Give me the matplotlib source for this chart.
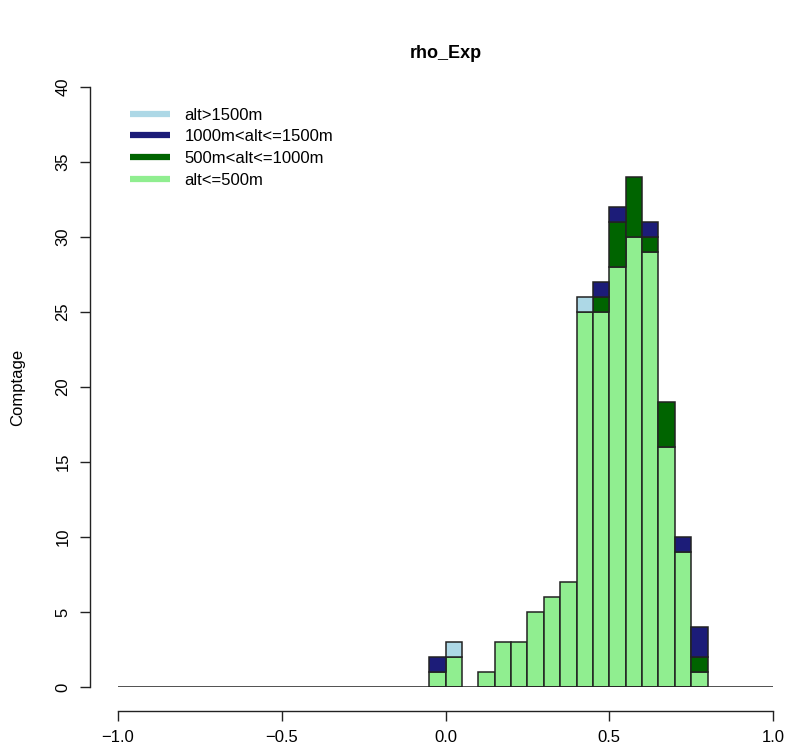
import matplotlib
matplotlib.use("Agg")
import matplotlib.pyplot as plt
from matplotlib.lines import Line2D
import numpy as np

plt.rcParams['font.family'] = ['Liberation Sans', 'DejaVu Sans']

# Histogram bins (left edges, width 0.05) and stacked counts per altitude class
bin_left = [-0.05, 0.00, 0.05, 0.10, 0.15, 0.20, 0.25, 0.30, 0.35,
            0.40, 0.45, 0.50, 0.55, 0.60, 0.65, 0.70, 0.75]
bin_width = 0.05
low = [1, 2, 0, 1, 3, 3, 5, 6, 7, 25, 25, 28, 30, 29, 16, 9, 1]        # alt<=500m
mid = [0, 0, 0, 0, 0, 0, 0, 0, 0, 0, 1, 3, 4, 1, 3, 0, 1]               # 500m<alt<=1000m
high = [1, 0, 0, 0, 0, 0, 0, 0, 0, 0, 1, 1, 0, 1, 0, 1, 2]              # 1000m<alt<=1500m
top = [0, 1, 0, 0, 0, 0, 0, 0, 0, 1, 0, 0, 0, 0, 0, 0, 0]               # alt>1500m

labels = ["alt>1500m", "1000m<alt<=1500m", "500m<alt<=1000m", "alt<=500m"]
colors = ["#add8e6", "#1c1c78", "#006400", "#90ee90"]
x_ticks = [-1.0, -0.5, 0.0, 0.5, 1.0]
y_ticks = [0, 5, 10, 15, 20, 25, 30, 35, 40]

W, H = 788, 753
fig = plt.figure(figsize=(W / 100, H / 100), dpi=100)
ax = fig.add_axes([118 / W, (H - 687) / H, 655 / W, 600 / H])

lefts = np.array(bin_left)
stack_order = [(low, colors[3]), (mid, colors[2]), (high, colors[1]), (top, colors[0])]
bottom = np.zeros(len(lefts))
for vals, col in stack_order:
    v = np.array(vals, dtype=float)
    mask = v > 0
    ax.bar(lefts[mask], v[mask], width=bin_width, bottom=bottom[mask], align='edge',
           color=col, edgecolor='#222222', linewidth=1.1, zorder=2)
    bottom += v

# baseline of the empty bins across the full range
ax.hlines(0, -1, 1, color='#222222', linewidth=1.1, zorder=3)

ax.set_xlim(-1, 1)
ax.set_ylim(0, 40)
ax.set_xticks(x_ticks)
ax.set_xticklabels([f"{t:.1f}".replace('-', '\u2212') for t in x_ticks])
ax.set_yticks(y_ticks)
ax.set_yticklabels([str(t) for t in y_ticks])

for s in ['top', 'right']:
    ax.spines[s].set_visible(False)
ax.spines['left'].set_position(('outward', 28 * 0.72))
ax.spines['bottom'].set_position(('outward', 24 * 0.72))
ax.spines['left'].set_bounds(0, 40)
ax.spines['bottom'].set_bounds(-1, 1)
for s in ['left', 'bottom']:
    ax.spines[s].set_linewidth(1.0)
    ax.spines[s].set_color('#222222')
ax.tick_params(axis='both', direction='out', length=7, width=1.0, color='#222222',
               labelsize=12, pad=7)
ax.tick_params(axis='y', labelrotation=90)
for lbl in ax.get_yticklabels():
    lbl.set_va('center')

ax.set_ylabel("Comptage", fontsize=12)
ax.yaxis.set_label_coords(-(118 - 25) / 655, 0.5)
fig.text(445.5 / W, 1 - 53 / H, "rho_Exp", ha='center', va='center',
         fontsize=13, fontweight='bold')

handles = [Line2D([0], [0], color=c, lw=4.5, solid_capstyle='butt') for c in colors]
leg = ax.legend(handles, labels, loc='upper left', bbox_to_anchor=(0.0, 0.985),
                frameon=False, fontsize=12, handlelength=2.4, handletextpad=0.9,
                labelspacing=0.4, borderaxespad=0.4, borderpad=0.3)

fig.savefig("out.png", dpi=100)
